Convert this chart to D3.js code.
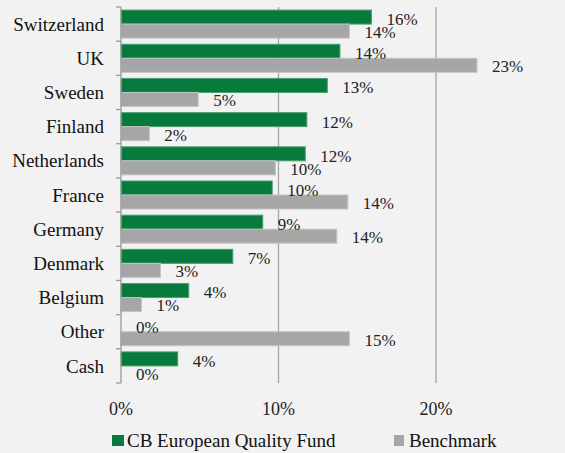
<!DOCTYPE html>
<html>
<head>
<meta charset="utf-8">
<script src="https://cdn.jsdelivr.net/npm/d3@7"></script>
<style>
  html, body { margin: 0; padding: 0; background: #f2f2f2; }
  svg { display: block; }
  svg text { font-family: "Liberation Serif", "DejaVu Serif", "Times New Roman", serif; }
  .cat { font-size: 19px; fill: #111; }
  .val { font-size: 17px; fill: #222; }
  .tick-label { font-size: 18px; fill: #222; }
  .legend { font-size: 19px; fill: #111; }
</style>
</head>
<body>
<div id="chart"></div>
<script>
// Country allocation: fund vs benchmark
const categories = ["Switzerland", "UK", "Sweden", "Finland", "Netherlands", "France",
  "Germany", "Denmark", "Belgium", "Other", "Cash"];
const fundValues = [15.9, 13.9, 13.1, 11.8, 11.7, 9.6, 9.0, 7.1, 4.3, 0, 3.6];
const benchValues = [14.5, 22.6, 4.9, 1.8, 9.8, 14.4, 13.7, 2.5, 1.3, 14.5, 0];
const fundLabels = ["16%", "14%", "13%", "12%", "12%", "10%", "9%", "7%", "4%", "0%", "4%"];
const benchLabels = ["14%", "23%", "5%", "2%", "10%", "14%", "14%", "3%", "1%", "15%", "0%"];
const xTicks = [0, 10, 20];
const seriesNames = ["CB European Quality Fund", "Benchmark"];

const width = 565, height = 453;
const margin = { top: 7, right: 10, bottom: 70, left: 121 };
const green = "#077a3d", grey = "#a6a6a6";
const fontFamily = "'Liberation Serif', 'DejaVu Serif', serif";

const svg = d3.select("#chart").append("svg")
  .attr("width", width)
  .attr("height", height)
  .attr("font-family", fontFamily);

const g = svg.append("g")
  .attr("transform", `translate(${margin.left},${margin.top})`);

const innerHeight = height - margin.top - margin.bottom;

const x = d3.scaleLinear().domain([0, 10]).range([0, 157.5]);

const y = d3.scaleBand()
  .domain(categories)
  .range([0, innerHeight])
  .paddingInner(0.18)
  .paddingOuter(0.09);

const sub = d3.scaleBand()
  .domain([0, 1])
  .range([0, y.bandwidth()]);

// gridlines
g.selectAll(".grid")
  .data(xTicks.slice(1))
  .enter().append("line")
  .attr("x1", d => x(d)).attr("x2", d => x(d))
  .attr("y1", 0).attr("y2", innerHeight)
  .attr("stroke", "#a5a5a5")
  .attr("stroke-width", 1.3);

const rows = categories.map((c, i) => ({
  cat: c,
  vals: [fundValues[i], benchValues[i]],
  labels: [fundLabels[i], benchLabels[i]]
}));

const groups = g.selectAll(".row")
  .data(rows)
  .enter().append("g")
  .attr("transform", d => `translate(0,${y(d.cat)})`);

groups.selectAll("rect")
  .data(d => d.vals.map((v, k) => ({ v, k })))
  .enter().append("rect")
  .attr("x", 0)
  .attr("y", d => sub(d.k))
  .attr("width", d => x(d.v))
  .attr("height", sub.bandwidth())
  .attr("fill", d => d.k === 0 ? green : grey)
  .attr("stroke", d => d.k === 0 ? "#4f9e72" : "#c4c4c4")
  .attr("stroke-width", d => d.v > 0 ? 1 : 0);

groups.selectAll(".val")
  .data(d => d.labels.map((t, k) => ({ t, k, v: d.vals[k] })))
  .enter().append("text")
  .attr("class", "val")
  .attr("font-family", fontFamily)
  .attr("x", d => x(d.v) + 15)
  .attr("y", d => sub(d.k) + sub.bandwidth() / 2 + (d.k === 0 ? 2 : 1))
  .attr("dy", "0.35em")
  .text(d => d.t);

// left axis
const axisColor = "#9a9a9a";
g.append("line")
  .attr("x1", 0).attr("x2", 0)
  .attr("y1", 0).attr("y2", innerHeight)
  .attr("stroke", axisColor).attr("stroke-width", 1.3);

const tickYs = d3.range(categories.length + 1).map(i => i * innerHeight / categories.length);
g.selectAll(".ytick")
  .data(tickYs)
  .enter().append("line")
  .attr("x1", -5).attr("x2", 0)
  .attr("y1", d => d).attr("y2", d => d)
  .attr("stroke", axisColor).attr("stroke-width", 1.3);

g.selectAll(".cat")
  .data(categories)
  .enter().append("text")
  .attr("class", "cat")
  .attr("font-family", fontFamily)
  .attr("x", -17)
  .attr("y", d => y(d) + y.bandwidth() / 2)
  .attr("dy", "0.35em")
  .attr("text-anchor", "end")
  .text(d => d);

// x tick labels
g.selectAll(".tick-label")
  .data(xTicks)
  .enter().append("text")
  .attr("class", "tick-label")
  .attr("font-family", fontFamily)
  .attr("x", d => x(d))
  .attr("y", innerHeight + 32)
  .attr("text-anchor", "middle")
  .text(d => d + "%");

// legend
const legend = svg.append("g").attr("transform", "translate(0,435)");
const legendX = [112, 394];
seriesNames.forEach((name, i) => {
  legend.append("rect")
    .attr("x", legendX[i]).attr("y", 0)
    .attr("width", i === 0 ? 12 : 10).attr("height", 11)
    .attr("fill", i === 0 ? green : grey);
  legend.append("text")
    .attr("class", "legend")
    .attr("font-family", fontFamily)
    .attr("x", legendX[i] + 15)
    .attr("y", 12)
    .text(name);
});
</script>
</body>
</html>
